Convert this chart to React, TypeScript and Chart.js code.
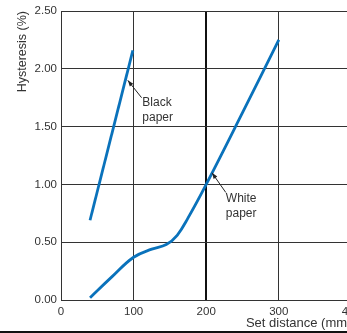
import React, { useEffect, useRef } from "react";
import { Chart, registerables } from "chart.js";

Chart.register(...registerables);

const blackX = [40, 99];
const blackY = [0.69, 2.16];
const whiteX = [40, 70, 100, 125, 145, 160, 175, 200, 250, 300];
const whiteY = [0.02, 0.2, 0.37, 0.44, 0.48, 0.56, 0.71, 1.0, 1.62, 2.25];
const xTicks = [0, 100, 200, 300, 400];
const yTicks = [0, 0.5, 1.0, 1.5, 2.0, 2.5];

const notes = [
  { lines: ["Black", "paper"], tip: [92, 1.9], tail: [111, 1.75], text: [112, 1.71] },
  { lines: ["White", "paper"], tip: [208, 1.1], tail: [227, 0.93], text: [227, 0.88] },
];

const LINE_BLUE = "#0a72bb";
const FONT = "'Liberation Sans', Arial, sans-serif";

const annotPlugin = {
  id: "annot",
  afterDatasetsDraw(chart: any) {
    const { ctx } = chart;
    const xs = chart.scales.x;
    const ys = chart.scales.y;
    ctx.save();
    ctx.strokeStyle = "#222";
    ctx.fillStyle = "#222";
    ctx.lineWidth = 1;
    for (const n of notes) {
      const tx = xs.getPixelForValue(n.tip[0]);
      const ty = ys.getPixelForValue(n.tip[1]);
      const lx = xs.getPixelForValue(n.tail[0]);
      const ly = ys.getPixelForValue(n.tail[1]);
      ctx.beginPath();
      ctx.moveTo(lx, ly);
      ctx.lineTo(tx, ty);
      ctx.stroke();
      const ang = Math.atan2(ty - ly, tx - lx);
      const L = 6, W = 2.2;
      ctx.beginPath();
      ctx.moveTo(tx, ty);
      ctx.lineTo(tx - L * Math.cos(ang) + W * Math.sin(ang), ty - L * Math.sin(ang) - W * Math.cos(ang));
      ctx.lineTo(tx - L * Math.cos(ang) - W * Math.sin(ang), ty - L * Math.sin(ang) + W * Math.cos(ang));
      ctx.closePath();
      ctx.fill();
      ctx.fillStyle = "#333";
      ctx.font = `12px ${FONT}`;
      ctx.textAlign = "left";
      ctx.textBaseline = "middle";
      const x0 = xs.getPixelForValue(n.text[0]);
      const y0 = ys.getPixelForValue(n.text[1]);
      n.lines.forEach((t, i) => ctx.fillText(t, x0, y0 + i * 15));
      ctx.fillStyle = "#222";
    }
    ctx.restore();
  },
};

export default function App() {
  const ref = useRef<HTMLCanvasElement>(null);
  useEffect(() => {
    if (!ref.current) return;
    const chart = new Chart(ref.current, {
      type: "line",
      data: {
        datasets: [
          {
            label: "Black paper",
            data: blackX.map((x, i) => ({ x, y: blackY[i] })),
            borderColor: LINE_BLUE,
            borderWidth: 2.8,
            pointRadius: 0,
            borderCapStyle: "butt",
          },
          {
            label: "White paper",
            data: whiteX.map((x, i) => ({ x, y: whiteY[i] })),
            borderColor: LINE_BLUE,
            borderWidth: 2.8,
            pointRadius: 0,
            tension: 0.4,
          },
        ],
      },
      options: {
        responsive: false,
        animation: false,
        layout: { padding: { top: 11, right: 0, left: 0, bottom: 0 } },
        plugins: { legend: { display: false }, tooltip: { enabled: false } },
        scales: {
          x: {
            type: "linear",
            min: 0,
            max: 400,
            afterBuildTicks: (s: any) => {
              s.ticks = xTicks.map((v) => ({ value: v }));
            },
            afterFit: (s: any) => {
              s.height = 31;
            },
            ticks: {
              color: "#333",
              font: { family: FONT, size: 11.5 },
              padding: 5,
              maxRotation: 0,
            },
            grid: {
              drawTicks: false,
              color: (c: any) => (c.tick && c.tick.value === 200 ? "#111" : "#333"),
              lineWidth: (c: any) => (c.tick && c.tick.value === 200 ? 2 : 1),
            },
            border: { color: "#333", width: 1 },
            title: {
              display: true,
              text: "Set distance (mm)",
              align: "end",
              color: "#333",
              font: { family: FONT, size: 13 },
              padding: { top: 0, bottom: 0 },
            },
          },
          y: {
            min: 0,
            max: 2.5,
            afterBuildTicks: (s: any) => {
              s.ticks = yTicks.map((v) => ({ value: v }));
            },
            afterFit: (s: any) => {
              s.width = 61;
            },
            ticks: {
              color: "#333",
              font: { family: FONT, size: 11.5 },
              padding: 4,
              callback: (v: any) => Number(v).toFixed(2),
            },
            grid: { drawTicks: false, color: "#333", lineWidth: 1 },
            border: { color: "#333", width: 1 },
            title: {
              display: true,
              text: "Hysteresis (%)",
              align: "end",
              color: "#333",
              font: { family: FONT, size: 12.5 },
              padding: { top: 15, bottom: 0 },
            },
          },
        },
      },
      plugins: [annotPlugin],
    } as any);
    return () => chart.destroy();
  }, []);

  return (
    <div
      style={{
        position: "fixed",
        left: 0,
        top: 0,
        width: 347,
        height: 333,
        overflow: "hidden",
        background: "#fff",
      }}
    >
      <div style={{ width: 366, height: 331, borderBottom: "2px solid #111" }}>
        <canvas ref={ref} width={366} height={331} style={{ display: "block" }} />
      </div>
    </div>
  );
}
